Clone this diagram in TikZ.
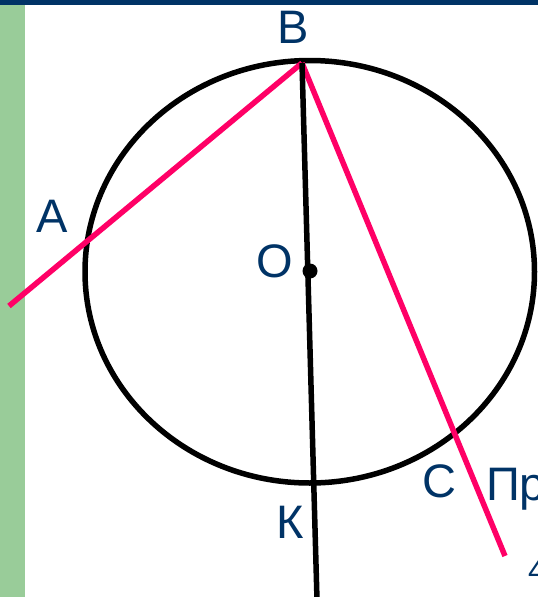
\documentclass[tikz,border=0pt]{standalone}
\usepackage{fontspec}
\setmainfont{Liberation Sans}
\definecolor{navy}{RGB}{0,51,102}
\definecolor{leaf}{RGB}{153,204,153}
\definecolor{rose}{RGB}{255,0,102}
\tikzset{
  lbl/.style={text=navy, font=\fontsize{47}{47}\selectfont, inner sep=0pt, anchor=base},
  chord/.style={draw=rose, line width=5.5pt},
  axis/.style={draw=black, line width=5.5pt},
}
\begin{document}
\begin{tikzpicture}[x=1pt,y=-1pt]
\useasboundingbox (0,0) rectangle (538,597);
\clip (0,0) rectangle (538,597);
% frame pieces
\fill[navy] (0,0) rectangle (538,5);
\fill[leaf] (0,5) rectangle (24.5,597);
% circle
\draw[line width=5.5pt] (309.75,271.75) ellipse [x radius=224.75, y radius=211.25];
% points
\coordinate (B) at (302,63);
\coordinate (Aend) at (9,306);
\coordinate (Cend) at (505,556);
\coordinate (Kend) at (317,600);
\coordinate (O) at (310,271);
% lines
\draw[chord] (B) -- (Aend);
\draw[chord] (B) -- (Cend);
\draw[axis] (B) -- (Kend);
\fill (O) circle [radius=7.5pt];
% labels
\node[lbl] (lB) at (293,43) {B};
\node[lbl] (lA) at (52,232) {A};
\node[lbl] (lO) at (274.5,277) {O};
\node[lbl] (lC) at (439,497) {C};
\node[lbl] (lK) at (290,538) {К};
\node[lbl, anchor=base west] (lP) at (486,500) {Пр};
\node[text=navy, font=\fontsize{32}{32}\selectfont, inner sep=0pt, anchor=base west] (l4) at (528,581) {4};
\end{tikzpicture}
\end{document}
